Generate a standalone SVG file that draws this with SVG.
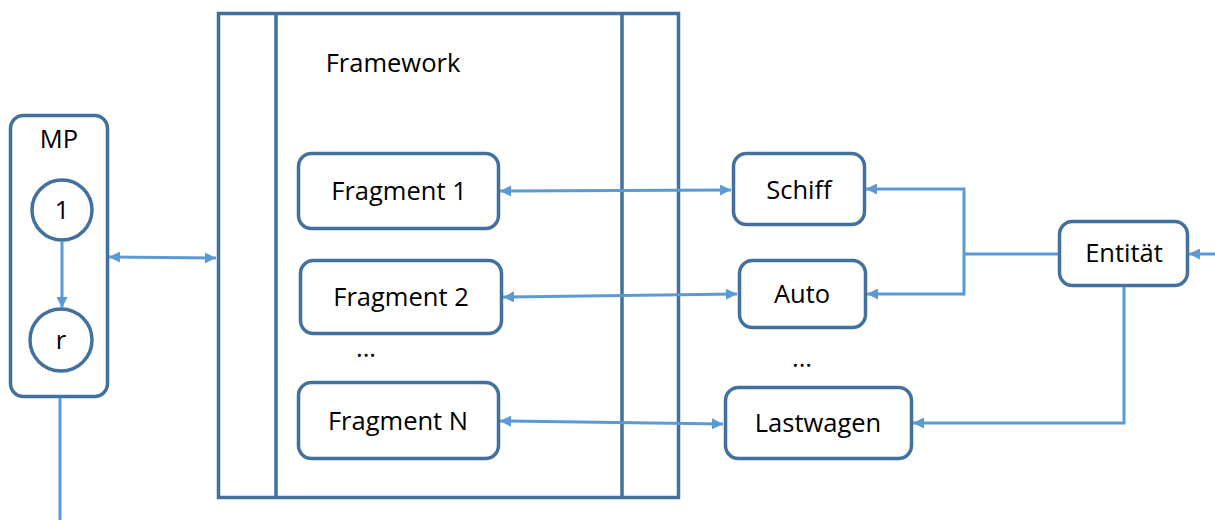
<svg xmlns="http://www.w3.org/2000/svg" width="1215" height="520" viewBox="0 0 1215 520">
  <style>
    .box { fill: #fff; stroke: #41719C; stroke-width: 3.5; }
    .frame { fill: none; stroke: #41719C; stroke-width: 3.5; }
    .link { fill: none; stroke: #5B9BD5; stroke-width: 3; }
    .lbl { font-family: "Open Sans", "Liberation Sans", sans-serif; font-size: 25.5px; fill: #000; text-anchor: middle; }
  </style>
  <defs>
    <marker id="ah" viewBox="0 0 10 10" refX="10" refY="5" markerWidth="12" markerHeight="11" markerUnits="userSpaceOnUse" orient="auto-start-reverse">
      <path d="M0,0 L10,5 L0,10 z" fill="#5B9BD5"/>
    </marker>
  </defs>

  <rect x="0" y="0" width="1215" height="520" fill="#fff"/>

  <!-- Framework container with two inner column dividers -->
  <g id="framework">
    <rect class="frame" x="218.5" y="13.5" width="460" height="484"/>
    <line class="frame" x1="276" y1="13.5" x2="276" y2="497.5"/>
    <line class="frame" x1="622" y1="13.5" x2="622" y2="497.5"/>
    <text class="lbl" x="393" y="72">Framework</text>
  </g>

  <!-- MP block with its two states -->
  <g id="mp">
    <rect class="box" x="10.5" y="115.5" width="97" height="281" rx="13"/>
    <text class="lbl" x="59" y="148">MP</text>
  </g>
  <g id="state-1">
    <circle class="box" cx="62" cy="210" r="30"/>
    <text class="lbl" x="62" y="219">1</text>
  </g>
  <g id="state-r">
    <circle class="box" cx="61" cy="340" r="31"/>
    <text class="lbl" x="61" y="349">r</text>
  </g>

  <g id="fragment-1">
    <rect class="box" x="298.5" y="153.5" width="200" height="75" rx="13"/>
    <text class="lbl" x="399" y="200">Fragment 1</text>
  </g>
  <g id="fragment-2">
    <rect class="box" x="300.5" y="260.5" width="201" height="73" rx="13"/>
    <text class="lbl" x="401" y="306">Fragment 2</text>
  </g>
  <text class="lbl" x="366" y="357">...</text>
  <g id="fragment-n">
    <rect class="box" x="298.5" y="382.5" width="200" height="76" rx="13"/>
    <text class="lbl" x="398" y="430">Fragment N</text>
  </g>

  <g id="schiff">
    <rect class="box" x="733.5" y="153.5" width="131" height="71" rx="13"/>
    <text class="lbl" x="799" y="199">Schiff</text>
  </g>
  <g id="auto">
    <rect class="box" x="739.5" y="260.5" width="126" height="67" rx="13"/>
    <text class="lbl" x="802" y="303">Auto</text>
  </g>
  <text class="lbl" x="802" y="367">...</text>
  <g id="lastwagen">
    <rect class="box" x="725.5" y="387.5" width="186" height="71" rx="13"/>
    <text class="lbl" x="818" y="432">Lastwagen</text>
  </g>

  <g id="entitaet">
    <rect class="box" x="1059.5" y="221.5" width="128" height="64" rx="13"/>
    <text class="lbl" x="1124" y="262">Entität</text>
  </g>

  <g id="connectors">
    <!-- MP internal transition and exit line -->
    <line class="link" x1="62" y1="241" x2="62" y2="308" marker-end="url(#ah)"/>
    <line class="link" x1="60" y1="398" x2="60" y2="520"/>
    <!-- MP to framework -->
    <line class="link" x1="109" y1="257" x2="216" y2="258" marker-start="url(#ah)" marker-end="url(#ah)"/>
    <!-- fragments to vehicle types -->
    <line class="link" x1="500" y1="191" x2="731" y2="190" marker-start="url(#ah)" marker-end="url(#ah)"/>
    <line class="link" x1="503" y1="297" x2="737" y2="294" marker-start="url(#ah)" marker-end="url(#ah)"/>
    <line class="link" x1="500" y1="421" x2="723" y2="424" marker-start="url(#ah)" marker-end="url(#ah)"/>
    <!-- entity to its specialisations -->
    <polyline class="link" points="1058,254 964,254"/>
    <polyline class="link" points="964,295.5 964,189 866,189" marker-end="url(#ah)"/>
    <polyline class="link" points="964,294 867,294" marker-end="url(#ah)"/>
    <polyline class="link" points="1124,287 1124,423 913,423" marker-end="url(#ah)"/>
    <!-- incoming from the right edge -->
    <line class="link" x1="1215" y1="254" x2="1189" y2="254" marker-end="url(#ah)"/>
  </g>
</svg>
